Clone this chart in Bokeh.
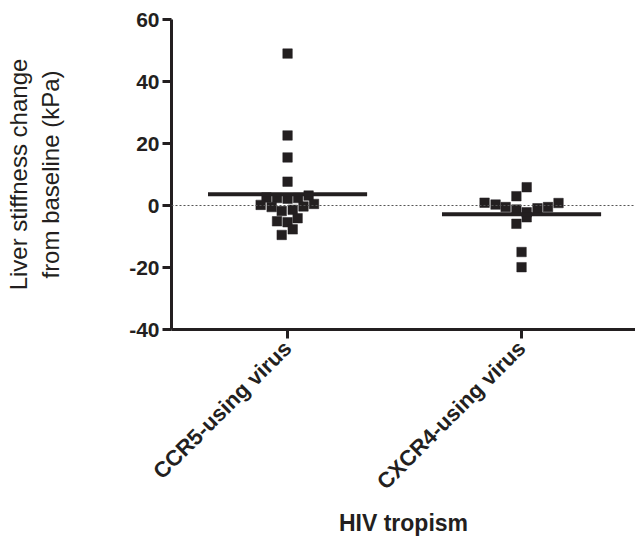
import numpy as np
from bokeh.plotting import figure
from bokeh.models import Range1d, FixedTicker, Span, ColumnDataSource
from bokeh.embed import file_html
from bokeh.resources import INLINE

# ---- data ----
categories = ["CCR5-using virus", "CXCR4-using virus"]
cat_pos = [1, 2]

ccr5_x = [1.000, 1.000, 1.000, 1.000,
          0.910, 0.955, 1.000, 1.045, 1.090,
          0.885, 0.932, 0.975, 1.022, 1.068, 1.113,
          0.955, 1.000, 1.043, 1.022, 0.975]
ccr5_y = [49.0, 22.6, 15.5, 7.7,
          2.6, 2.4, 2.2, 2.4, 3.2,
          0.2, -0.5, -1.8, -1.4, -0.3, 0.5,
          -5.1, -5.4, -4.1, -7.7, -9.5]

cxcr4_x = [2.022, 1.978, 1.842, 1.889, 1.932, 1.978, 2.022, 2.068, 2.113,
           2.158, 2.022, 1.978, 2.000, 2.000]
cxcr4_y = [5.9, 3.0, 0.9, 0.3, -0.5, -1.3, -2.2, -0.9, -0.5,
           0.8, -3.8, -5.9, -15.0, -19.9]

y_ticks = [-40, -20, 0, 20, 40, 60]
y_tick_labels = ["-40", "-20", "0", "20", "40", "60"]

INK = "#231f20"
FONT = "Liberation Sans"

p = figure(frame_width=464, frame_height=310, output_backend="svg",
           toolbar_location=None,
           x_range=Range1d(0.504, 2.487), y_range=Range1d(-40, 60),
           min_border_left=171, min_border_right=0, min_border_top=19,
           min_border_bottom=0)
p.outline_line_color = None
p.grid.grid_line_color = None
p.background_fill_color = "white"

zero = Span(location=0, dimension="width", line_color="#555555",
            line_width=1, line_dash="2 2")
p.add_layout(zero)

src1 = ColumnDataSource(dict(x=ccr5_x, y=ccr5_y))
src2 = ColumnDataSource(dict(x=cxcr4_x, y=cxcr4_y))
for s in (src1, src2):
    p.scatter("x", "y", source=s, marker="square", size=9.5,
              fill_color=INK, line_color=INK, line_width=0.5)

means = [float(np.mean(ccr5_y)), float(np.mean(cxcr4_y))]
half = 0.34
p.segment(x0=[c - half for c in cat_pos], x1=[c + half for c in cat_pos],
          y0=means, y1=means, line_color=INK, line_width=4)

# axes
for ax in (p.xaxis[0], p.yaxis[0]):
    ax.axis_line_width = 3
    ax.axis_line_color = INK
    ax.major_tick_line_width = 3
    ax.major_tick_line_color = INK
    ax.major_tick_in = 0
    ax.major_tick_out = 9
    ax.minor_tick_line_color = None
    ax.major_label_text_font = FONT
    ax.major_label_text_font_style = "bold"
    ax.major_label_text_color = INK
    ax.axis_label_text_font = FONT
    ax.axis_label_text_color = INK

p.yaxis.ticker = FixedTicker(ticks=y_ticks)
p.yaxis.major_label_overrides = {t: s for t, s in zip(y_ticks, y_tick_labels)}
p.yaxis.major_label_text_font_size = "21px"
p.yaxis.major_label_standoff = 3
p.yaxis.axis_label = "Liver stiffness change\nfrom baseline (kPa)"
p.yaxis.axis_label_text_font_style = "normal"
p.yaxis.axis_label_text_font_size = "24px"
p.yaxis.axis_label_standoff = 62

p.xaxis.ticker = FixedTicker(ticks=cat_pos)
p.xaxis.major_label_overrides = {c: n for c, n in zip(cat_pos, categories)}
p.xaxis.major_label_text_font_size = "22px"
p.xaxis.major_label_orientation = np.pi / 4
p.xaxis.major_label_standoff = 6
p.xaxis.axis_label = "HIV tropism"
p.xaxis.axis_label_text_font_style = "bold"
p.xaxis.axis_label_text_font_size = "23px"
p.xaxis.axis_label_standoff = 4

open("out.html", "w").write(file_html(p, INLINE))
